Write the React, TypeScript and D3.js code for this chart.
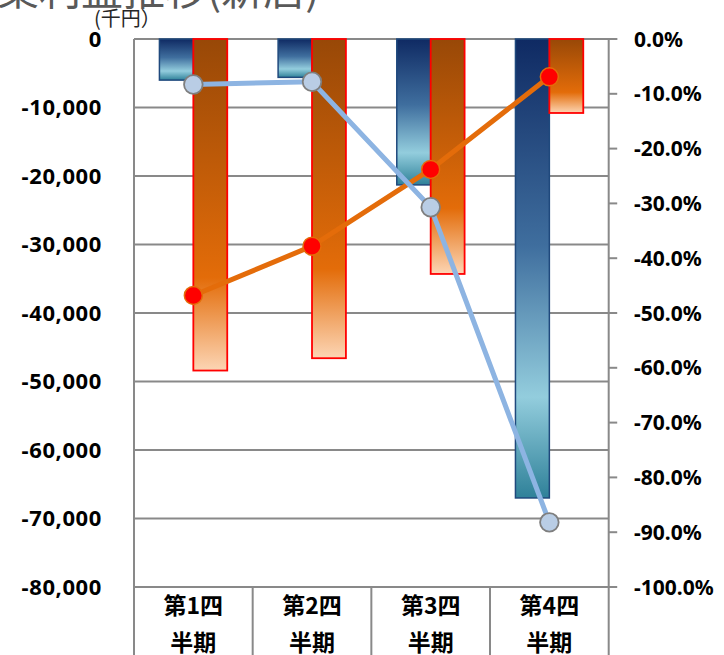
import React from "react";
import * as d3 from "d3";

const categories = ["第1四半期", "第2四半期", "第3四半期", "第4四半期"];
const barSeriesA = [-6000, -5600, -21300, -67000]; // blue bars (千円)
const barSeriesB = [-48400, -46600, -34300, -10800]; // orange bars (千円)
const rateSeriesA = [-8.3, -7.8, -30.7, -88.2]; // light blue line (%)
const rateSeriesB = [-46.8, -37.8, -23.8, -6.9]; // orange line (%)
const leftTicks = [0, -10000, -20000, -30000, -40000, -50000, -60000, -70000, -80000];
const rightTicks = [0, -10, -20, -30, -40, -50, -60, -70, -80, -90, -100];
const titleText = "営業利益推移(新店)";
const unitText = "(千円）";

const W = 724;
const H = 655;
const left = 134;
const right = 608.7;
const top = 39;
const bottom = 587;

export default function App() {
  const x = d3.scaleBand<string>().domain(categories).range([left, right]).paddingInner(0).paddingOuter(0);
  const sub = d3.scaleBand<string>().domain(["a", "b"]).range([0, x.bandwidth()]).paddingInner(0).paddingOuter(0.75);
  const yL = d3.scaleLinear().domain([-80000, 0]).range([bottom, top]);
  const yR = d3.scaleLinear().domain([-100, 0]).range([bottom, top]);
  const cx = (c: string) => (x(c) as number) + x.bandwidth() / 2;

  const lineGen = d3
    .line<[number, number]>()
    .x((d) => d[0])
    .y((d) => d[1]);

  const ptsA: [number, number][] = categories.map((c, i) => [cx(c), yR(rateSeriesA[i])]);
  const ptsB: [number, number][] = categories.map((c, i) => [cx(c), yR(rateSeriesB[i])]);

  const fmt = d3.format(",");
  const gridColor = "#898989";
  const labelFont = "'Noto Sans', 'Noto Sans CJK JP', sans-serif";
  const cjkFont = "'Noto Sans CJK JP', sans-serif";

  return (
    <svg width={W} height={H} style={{ position: "absolute", left: 0, top: 0, background: "#fff" }}>
      <defs>
        <linearGradient id="gradBlue" x1="0" y1="0" x2="0" y2="1">
          <stop offset="0" stopColor="#0F2A63" />
          <stop offset="0.45" stopColor="#3F6E9E" />
          <stop offset="0.78" stopColor="#93CDDD" />
          <stop offset="1" stopColor="#2F8199" />
        </linearGradient>
        <linearGradient id="gradOrange" x1="0" y1="0" x2="0" y2="1">
          <stop offset="0" stopColor="#984807" />
          <stop offset="0.72" stopColor="#E36C09" />
          <stop offset="1" stopColor="#FCD5B4" />
        </linearGradient>
      </defs>
      <rect x={0} y={0} width={W} height={H} fill="#fff" />

      {/* title (cropped at top) */}
      <text x={-45} y={5} fontSize={42} fill="#595959" fontFamily={cjkFont}>
        {titleText}
      </text>
      <text x={94} y={26} fontSize={20} fill="#262626" fontFamily={cjkFont}>
        {unitText}
      </text>

      {/* gridlines */}
      {leftTicks.map((t) => (
        <line key={"g" + t} x1={left} x2={right} y1={yL(t)} y2={yL(t)} stroke={gridColor} strokeWidth={2} />
      ))}
      {/* top line extends as tick */}
      <line x1={left} x2={right + 8.5} y1={top} y2={top} stroke={gridColor} strokeWidth={2} />

      {/* right axis ticks */}
      {rightTicks.map((t) => (
        <line key={"rt" + t} x1={right} x2={right + 8.5} y1={yR(t)} y2={yR(t)} stroke={gridColor} strokeWidth={2} />
      ))}

      {/* axis / category separator lines */}
      {[left, ...categories.map((c) => (x(c) as number) + x.bandwidth())].map((xx, i) => (
        <line key={"v" + i} x1={xx} x2={xx} y1={i === 0 || i === categories.length ? top : bottom} y2={H} stroke={gridColor} strokeWidth={2} />
      ))}

      {/* bars */}
      {categories.map((c, i) => {
        const x0 = x(c) as number;
        const ya = yL(barSeriesA[i]);
        const yb = yL(barSeriesB[i]);
        return (
          <g key={"b" + c}>
            <rect x={x0 + (sub("a") as number)} y={yL(0)} width={sub.bandwidth()} height={ya - yL(0)} fill="url(#gradBlue)" stroke="#1F497D" strokeWidth={1.5} />
            <rect x={x0 + (sub("b") as number)} y={yL(0)} width={sub.bandwidth()} height={yb - yL(0)} fill="url(#gradOrange)" stroke="#FF0000" strokeWidth={1.8} />
          </g>
        );
      })}

      {/* orange line */}
      <path d={lineGen(ptsB) || ""} fill="none" stroke="#E46C0A" strokeWidth={5} />
      {ptsB.map((p, i) => (
        <circle key={"mb" + i} cx={p[0]} cy={p[1]} r={9} fill="#FF0000" stroke="#E46C0A" strokeWidth={1.5} />
      ))}
      {/* blue line */}
      <path d={lineGen(ptsA) || ""} fill="none" stroke="#8DB4E2" strokeWidth={5} />
      {ptsA.map((p, i) => (
        <circle key={"ma" + i} cx={p[0]} cy={p[1]} r={9.3} fill="#B9CDE5" stroke="#7F7F7F" strokeWidth={1.8} />
      ))}

      {/* left axis labels */}
      {leftTicks.map((t) => (
        <text key={"lt" + t} x={102} y={yL(t)} dy="0.36em" textAnchor="end" fontSize={22} fontWeight="bold" fontFamily={labelFont} letterSpacing={0.6} fill="#000">
          {fmt(t).replace("−", "-")}
        </text>
      ))}
      {/* right axis labels */}
      {rightTicks.map((t) => (
        <text key={"rl" + t} x={634} y={yR(t)} dy="0.36em" textAnchor="start" fontSize={21} fontWeight="bold" fontFamily={labelFont} fill="#000">
          {t.toFixed(1) + "%"}
        </text>
      ))}

      {/* category labels */}
      {categories.map((c) => (
        <g key={"cl" + c}>
          <text x={cx(c)} y={606} dy="0.36em" textAnchor="middle" fontSize={23} fontWeight="bold" fontFamily={cjkFont} fill="#000">
            {c.slice(0, 3)}
          </text>
          <text x={cx(c)} y={643} dy="0.36em" textAnchor="middle" fontSize={23} fontWeight="bold" fontFamily={cjkFont} fill="#000">
            {c.slice(3)}
          </text>
        </g>
      ))}
    </svg>
  );
}
